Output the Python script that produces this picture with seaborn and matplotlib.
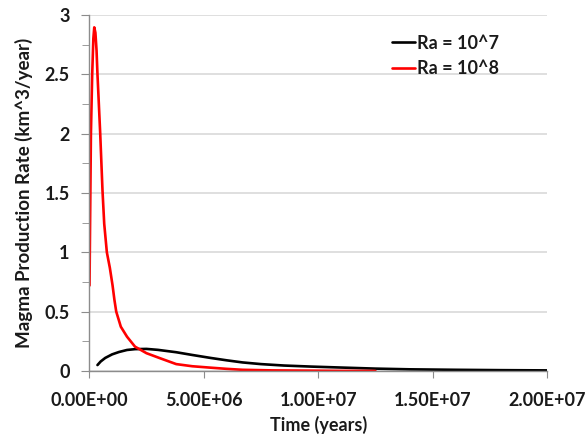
import numpy as np
import pandas as pd
import matplotlib
matplotlib.use("Agg")
import matplotlib.pyplot as plt
import seaborn as sns
from matplotlib.ticker import FuncFormatter, MultipleLocator

# Ra = 10^7 (black)
t_ra7 = [3.6e5, 5e5, 7e5, 1.0e6, 1.3e6, 1.65e6, 2.0e6, 2.5e6, 3.0e6, 3.8e6,
         4.5e6, 5.3e6, 6.0e6, 6.7e6, 7.5e6, 8.5e6, 9.7e6, 1.1e7, 1.25e7,
         1.4e7, 1.6e7, 1.8e7, 2.0e7]
rate_ra7 = [0.05, 0.08, 0.11, 0.14, 0.16, 0.177, 0.184, 0.186, 0.178, 0.158,
            0.135, 0.11, 0.09, 0.072, 0.058, 0.046, 0.037, 0.029, 0.02,
            0.014, 0.01, 0.007, 0.005]

# Ra = 10^8 (red)
t_ra8 = [1.3e4, 4e4, 7.4e4, 1.3e5, 1.8e5, 2.2e5, 2.7e5, 3.2e5, 3.6e5, 4.8e5,
         5.8e5, 6.55e5, 7.7e5, 9.0e5, 1.02e6, 1.1e6, 1.18e6, 1.38e6, 1.65e6,
         2.0e6, 2.5e6, 3.1e6, 3.8e6, 4.5e6, 5.3e6, 6.0e6, 6.7e6, 8e6, 9.6e6,
         1.1e7, 1.25e7]
rate_ra8 = [0.72, 1.3, 2.0, 2.5, 2.8, 2.895, 2.85, 2.7, 2.5, 2.0,
            1.52, 1.24, 1.0, 0.87, 0.72, 0.6, 0.5, 0.373, 0.289,
            0.205, 0.15, 0.107, 0.058, 0.04, 0.028, 0.018, 0.01, 0.005, 0.003,
            0.001, 0.0]

labels = ["Ra = 10^7", "Ra = 10^8"]

df = pd.concat([
    pd.DataFrame({"time": t_ra7, "rate": rate_ra7, "series": labels[0]}),
    pd.DataFrame({"time": t_ra8, "rate": rate_ra8, "series": labels[1]}),
])

sns.set_style("white")
plt.rcParams['font.family'] = ['Lato', 'DejaVu Sans']

fig = plt.figure(figsize=(5.87, 4.38), dpi=100)
ax = fig.add_axes([0.152, 0.153, 0.780, 0.813])

sns.lineplot(data=df, x="time", y="rate", hue="series", estimator=None,
             sort=False, palette={labels[0]: "black", labels[1]: "#ff0000"},
             linewidth=1.9, ax=ax)

ax.set_xlim(0, 2e7)
ax.set_ylim(0, 3)
ax.xaxis.set_major_locator(MultipleLocator(5e6))
ax.yaxis.set_major_locator(MultipleLocator(0.5))
ax.yaxis.set_minor_locator(MultipleLocator(0.25))
ax.xaxis.set_major_formatter(FuncFormatter(lambda v, p: f"{v:.2E}"))
ax.yaxis.set_major_formatter(FuncFormatter(lambda v, p: f"{v:g}"))

ax.grid(axis="y", color="#d9d9d9", linewidth=1.2)
ax.set_axisbelow(True)
for s in ["top", "right"]:
    ax.spines[s].set_visible(False)
for s in ["left", "bottom"]:
    ax.spines[s].set_color("#8c8c8c")
    ax.spines[s].set_linewidth(1.0)

ax.tick_params(axis="y", which="major", direction="out", length=6,
               color="#8c8c8c", pad=8, labelsize=13, left=True)
ax.tick_params(axis="y", which="minor", direction="out", length=5,
               color="#8c8c8c", left=True)
ax.tick_params(axis="x", which="major", direction="out", length=5,
               color="#8c8c8c", pad=10, labelsize=13, bottom=True)
for lab in ax.get_xticklabels() + ax.get_yticklabels():
    lab.set_fontweight("bold")
    lab.set_color("#1a1a1a")

ax.set_xlabel("Time (years)", fontsize=13, fontweight="bold",
              color="#1a1a1a", labelpad=5)
ax.set_ylabel("Magma Production Rate (km^3/year)", fontsize=13.5,
              fontweight="bold", color="#1a1a1a", labelpad=8)

leg = ax.legend(loc="upper left", bbox_to_anchor=(0.625, 0.99), frameon=False,
                handlelength=1.3, handletextpad=0.1, labelspacing=0.45,
                prop={"weight": "bold", "size": 13})
for txt in leg.get_texts():
    txt.set_color("#1a1a1a")

fig.savefig("out.png", dpi=100)
